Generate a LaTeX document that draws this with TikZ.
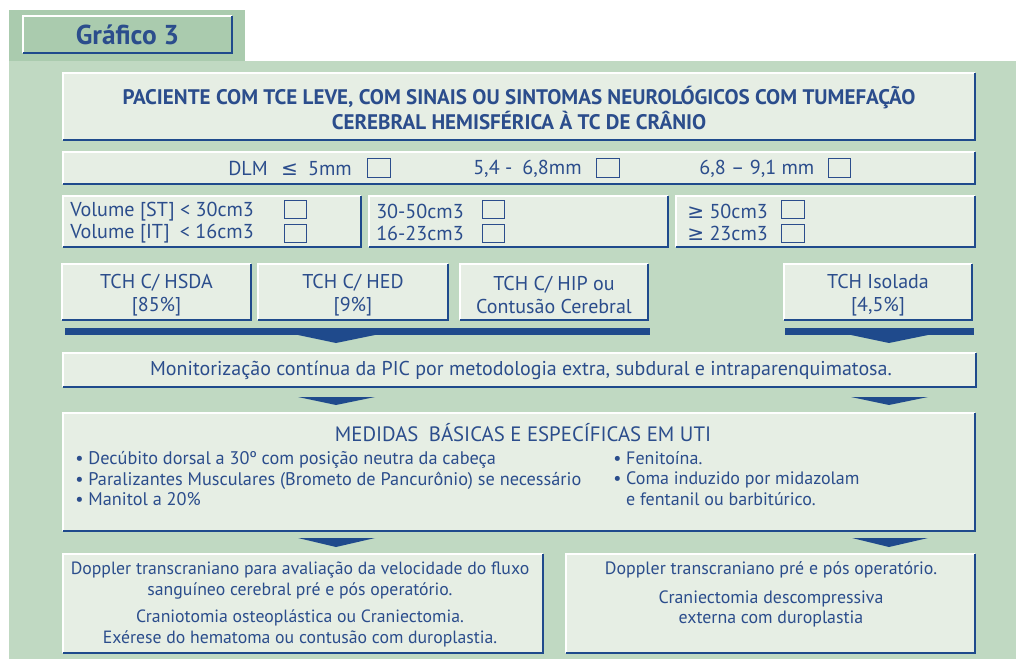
\documentclass[tikz,border=0pt]{standalone}
\usepackage{fontspec}
\setmainfont{PT Sans}
\newfontfamily\symf{DejaVu Sans}
\usetikzlibrary{fit}
\definecolor{panelgreen}{RGB}{192,217,194}
\definecolor{tabgreen}{RGB}{170,203,174}
\definecolor{boxfill}{RGB}{230,238,228}
\definecolor{txtblue}{RGB}{43,77,140}
\definecolor{barblue}{RGB}{31,74,140}
\tikzset{
  box/.style={fill=boxfill, inner sep=0pt, draw=none},
  tabbox/.style={fill=tabgreen, inner sep=0pt, draw=none},
  edgew/.style={draw=white, line width=1.5pt},
  edgeb/.style={draw=barblue, line width=1.5pt},
  txt/.style={text=txtblue, inner sep=0pt, font=\fontsize{14}{15.4}\selectfont},
  rowtxt/.style={txt, font=\fontsize{15.1}{16}\selectfont},
  tchtxt/.style={txt, align=center, font=\fontsize{15}{17.25}\selectfont},
  chk/.style={draw=txtblue, line width=0.9pt, fill=boxfill, inner sep=0pt, minimum width=17pt, minimum height=14pt},
  arrowfill/.style={fill=barblue, draw=none},
}
\newcommand\mkbox[4][box]{%
  \node[#1, fit={#3 #4}] (#2) {};
  \draw[edgew] (#2.south west) -- (#2.north west) -- (#2.north east);
  \draw[edgeb] (#2.south west) -- (#2.south east) -- (#2.north east);
}
\begin{document}
\begin{tikzpicture}[x=0.75pt,y=-0.75pt]
\useasboundingbox (0,0) rectangle (1016,659);
\fill[white] (0,0) rectangle (1016,659);
% background panels
\fill[tabgreen] (9,10) rectangle (245,61);
\fill[panelgreen] (9,61) rectangle (1016,659);
% title tab
\mkbox[tabbox]{tbox}{(23,16)}{(232,53)}
\node[txt, font=\fontsize{20.5}{22}\selectfont\bfseries] (ttl) at (tbox.center) {Gráfico 3};

% header
\mkbox{hdr}{(63,73)}{(975,140)}
\node[txt, align=center, font=\fontsize{15.8}{18.75}\selectfont\bfseries] (hdrt) at (519,107.5)
  {PACIENTE COM TCE LEVE, COM SINAIS OU SINTOMAS NEUROLÓGICOS COM TUMEFAÇÃO\\CEREBRAL HEMISFÉRICA À TC DE CRÂNIO};

% DLM row
\mkbox{dlm}{(63,152)}{(975,184)}
\node[rowtxt, anchor=west] (dlma) at (228,168.5) {DLM\enspace\,{\symf ≤}\enspace 5mm};
\node[chk] (cb1) at (379,168) {};
\node[rowtxt, anchor=west] (dlmb) at (473,168.5) {5,4 -\enspace 6,8mm};
\node[chk] (cb2) at (608,168) {};
\node[rowtxt, anchor=west] (dlmc) at (699,168.5) {6,8 – 9,1 mm};
\node[chk] (cb3) at (839.5,168) {};

% volume row
\mkbox{vA}{(63,196)}{(361,247)}
\mkbox{vB}{(369,196)}{(668,247)}
\mkbox{vC}{(676,196)}{(975,247)}
\node[rowtxt, anchor=west] (vA1) at (70,212) {Volume [ST] < 30cm3};
\node[rowtxt, anchor=west] (vA2) at (70,234) {Volume [IT]\enspace< 16cm3};
\node[chk] (cvA1) at (295.5,209.5) {};
\node[chk] (cvA2) at (295.5,233.5) {};
\node[rowtxt, anchor=west] (vB1) at (376,211) {30-50cm3};
\node[rowtxt, anchor=west] (vB2) at (376,233) {16-23cm3};
\node[chk] (cvB1) at (493.5,209.5) {};
\node[chk] (cvB2) at (493.5,233.5) {};
\node[rowtxt, anchor=west] (vC1) at (687,211) {{\symf ≥} 50cm3};
\node[rowtxt, anchor=west] (vC2) at (687,233) {{\symf ≥} 23cm3};
\node[chk] (cvC1) at (793,209.5) {};
\node[chk] (cvC2) at (793,233.5) {};

% TCH row
\mkbox{tA}{(62,264)}{(251,320)}
\mkbox{tB}{(258,264)}{(448,320)}
\mkbox{tC}{(460,264)}{(648,320)}
\mkbox{tD}{(784,264)}{(972,320)}
\node[tchtxt] (tAt) at ([yshift=-2.5]tA.center) {TCH C/ HSDA\\{}[85\%]};
\node[tchtxt] (tBt) at ([yshift=-2.5]tB.center) {TCH C/ HED\\{}[9\%]};
\node[tchtxt] (tCt) at ([yshift=-2.5]tC.center) {TCH C/ HIP ou\\Contusão Cerebral};
\node[tchtxt] (tDt) at ([yshift=-2.5]tD.center) {TCH Isolada\\{}[4,5\%]};

% bars with arrowheads
\fill[arrowfill] (65,328) rectangle (650,335);
\fill[arrowfill] (785,328) rectangle (974,335);
\fill[arrowfill] (298,335) -- (375,335) -- (336,343) -- cycle;
\fill[arrowfill] (851,335) -- (928,335) -- (889,343) -- cycle;

% monitorization
\mkbox{mon}{(63,353)}{(976,387)}
\node[txt, font=\fontsize{15}{16}\selectfont] (mont) at (521,370) {Monitorização contínua da PIC por metodologia extra, subdural e intraparenquimatosa.};
\fill[arrowfill] (298,397) -- (375,397) -- (336,405) -- cycle;
\fill[arrowfill] (851,397) -- (928,397) -- (889,405) -- cycle;

% medidas
\mkbox{med}{(63,413)}{(975,531)}
\node[txt, font=\fontsize{15.6}{16}\selectfont] (medt) at (523,433) {MEDIDAS\enspace BÁSICAS E ESPECÍFICAS EM UTI};
\node[txt, anchor=north west, align=left, font=\fontsize{13.7}{15.4}\selectfont] (medl) at (75,451.5)
  {\textbullet\ Decúbito dorsal a 30º com posição neutra da cabeça\\
   \textbullet\ Paralizantes Musculares (Brometo de Pancurônio) se necessário\\
   \textbullet\ Manitol a 20\%};
\node[txt, anchor=north west, align=left, font=\fontsize{13.5}{15.2}\selectfont] (medr) at (613,451.5)
  {\textbullet\ Fenitoína.\\
   \textbullet\ Coma induzido por midazolam\\
   \phantom{\textbullet\ }e fentanil ou barbitúrico.};
\fill[arrowfill] (298,538) -- (375,538) -- (336,547) -- cycle;
\fill[arrowfill] (852,538) -- (928,538) -- (889,547) -- cycle;

% bottom boxes
\mkbox{bA}{(63,554)}{(543,653)}
\mkbox{bB}{(566,554)}{(975,653)}
\node[txt, align=center, font=\fontsize{13.3}{15.75}\selectfont] (bAt) at (300,604.5)
  {Doppler transcraniano para avaliação da velocidade do fluxo\\
   sanguíneo cerebral pré e pós operatório.\\[4.5pt]
   Craniotomia osteoplástica ou Craniectomia.\\
   Exérese do hematoma ou contusão com duroplastia.};
\node[txt, align=center, font=\fontsize{13.4}{15}\selectfont] (bBt) at (771,594)
  {Doppler transcraniano pré e pós operatório.\\[6.75pt]
   Craniectomia descompressiva\\
   externa com duroplastia};
\end{tikzpicture}
\end{document}
